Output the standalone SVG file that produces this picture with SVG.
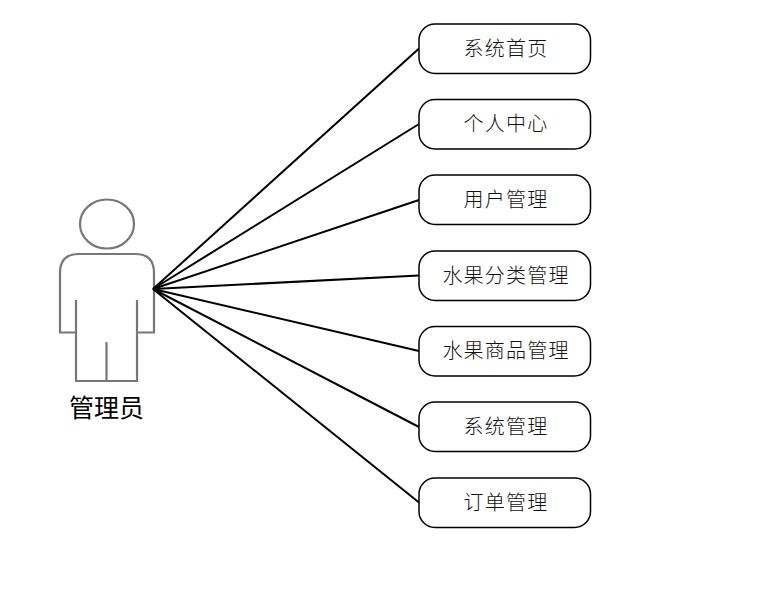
<svg xmlns="http://www.w3.org/2000/svg" width="757" height="591" viewBox="0 0 757 591">
<style>
.n{fill:#fff;stroke:#000;stroke-width:1.5}
.t{font-family:"Noto Sans CJK SC","Noto Sans CJK JP",sans-serif;font-size:20px;font-weight:300;text-anchor:middle;fill:#111;letter-spacing:1.200px}
.c line{stroke:#000;stroke-width:2}
.p{fill:none;stroke:#777;stroke-width:2.200}
</style>
<rect width="757" height="591" fill="#fff"/>
<g id="actor">
<ellipse class="p" cx="107" cy="224" rx="27" ry="24.5"/>
<path class="p" d="M76 332.500H60V273Q60 254 79 254H135Q154 254 154 273V332.500H137M76 300V381H137V300M106.500 342V381"/>
<text x="106.500" y="417" style="font-family:'Noto Sans CJK SC',sans-serif;font-size:25px;text-anchor:middle;fill:#000">管理员</text>
</g>
<g id="connectors" class="c">
<line x1="153" y1="289" x2="419" y2="48.500"/>
<line x1="153" y1="289" x2="419" y2="124"/>
<line x1="153" y1="289" x2="419" y2="200"/>
<line x1="153" y1="289" x2="419" y2="275.500"/>
<line x1="153" y1="289" x2="419" y2="351"/>
<line x1="153" y1="289" x2="419" y2="427"/>
<line x1="153" y1="289" x2="419" y2="502.500"/>
</g>
<g id="n1"><rect class="n" x="419" y="24" width="171.500" height="49.500" rx="16"/><text class="t" x="506" y="55.500">系统首页</text></g>
<g id="n2"><rect class="n" x="419" y="99.500" width="171.500" height="49.500" rx="16"/><text class="t" x="506" y="131">个人中心</text></g>
<g id="n3"><rect class="n" x="419" y="175" width="171.500" height="49.500" rx="16"/><text class="t" x="506" y="206.500">用户管理</text></g>
<g id="n4"><rect class="n" x="419" y="251" width="171.500" height="49.500" rx="16"/><text class="t" x="506" y="282.500">水果分类管理</text></g>
<g id="n5"><rect class="n" x="419" y="326.500" width="171.500" height="49.500" rx="16"/><text class="t" x="506" y="358">水果商品管理</text></g>
<g id="n6"><rect class="n" x="419" y="402" width="171.500" height="49.500" rx="16"/><text class="t" x="506" y="433.500">系统管理</text></g>
<g id="n7"><rect class="n" x="419" y="478" width="171.500" height="49.500" rx="16"/><text class="t" x="506" y="509.500">订单管理</text></g>
</svg>
